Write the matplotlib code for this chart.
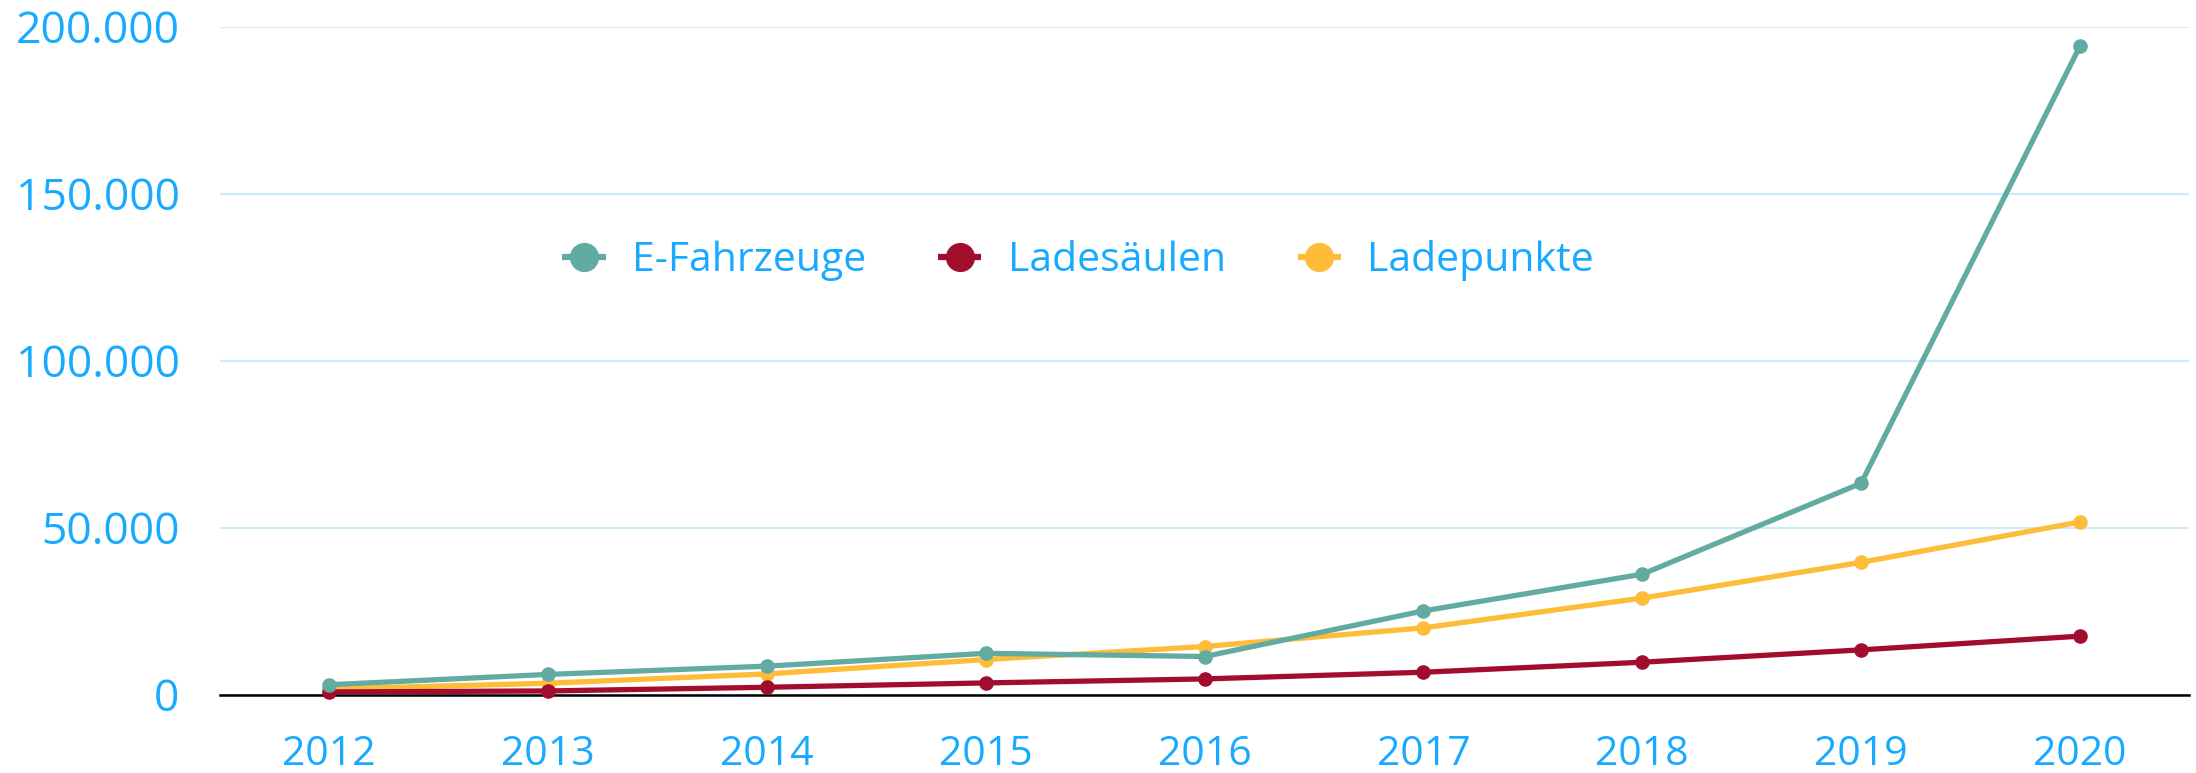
import matplotlib
matplotlib.use("Agg")
import matplotlib.pyplot as plt
from matplotlib.ticker import FuncFormatter

years = ["2012", "2013", "2014", "2015", "2016", "2017", "2018", "2019", "2020"]
e_fahrzeuge = [2956, 6051, 8522, 12363, 11410, 25056, 36062, 63281, 194163]
ladesaeulen = [800, 1100, 2200, 3500, 4700, 6700, 9700, 13400, 17500]
ladepunkte = [1700, 3400, 6200, 10500, 14400, 20000, 28900, 39600, 51700]

series_names = ["E-Fahrzeuge", "Ladesäulen", "Ladepunkte"]
colors = ["#62aba2", "#a30d2d", "#febd38"]
text_blue = "#18aaff"

plt.rcParams['font.family'] = ['Open Sans', 'DejaVu Sans']

fig = plt.figure(figsize=(21.96, 7.73), dpi=100)
ax = fig.add_axes([0.1001, 0.1014, 0.8969, 0.8642])

x = list(range(len(years)))
data = [e_fahrzeuge, ladesaeulen, ladepunkte]
zorders = [5, 4, 3]
lines = []
for vals, name, col, z in zip(data, series_names, colors, zorders):
    ln, = ax.plot(x, vals, color=col, lw=3.8, marker='o', markersize=9.5,
                  label=name, zorder=z, clip_on=False, solid_capstyle='butt')
    lines.append(ln)

ax.set_xlim(-0.5, len(years) - 0.5)
ax.set_ylim(0, 200000)
ax.set_yticks([0, 50000, 100000, 150000, 200000])
ax.yaxis.set_major_formatter(FuncFormatter(lambda v, p: f"{int(v):,}".replace(",", ".")))
ax.set_xticks(x)
ax.set_xticklabels(years)

ax.grid(axis='y', color='#cdebfa', lw=1.6, zorder=0)
ax.set_axisbelow(True)
for s in ['top', 'right', 'left']:
    ax.spines[s].set_visible(False)
ax.spines['bottom'].set_color('black')
ax.spines['bottom'].set_linewidth(1.8)
ax.spines['bottom'].set_zorder(2)

ax.tick_params(axis='y', length=0, pad=29, labelsize=32, labelcolor=text_blue)
ax.tick_params(axis='x', length=0, pad=29, labelsize=29.5, labelcolor=text_blue)

leg = ax.legend(handles=lines, loc='center', bbox_to_anchor=(0.491, 0.663),
                bbox_transform=fig.transFigure, ncol=3, frameon=False,
                fontsize=29.5, handlelength=1.05, handletextpad=0.65,
                columnspacing=1.75, labelcolor=text_blue)
for h in leg.legend_handles:
    h.set_markersize(20)
    h.set_linewidth(4.5)

fig.savefig("out.png", dpi=100)
